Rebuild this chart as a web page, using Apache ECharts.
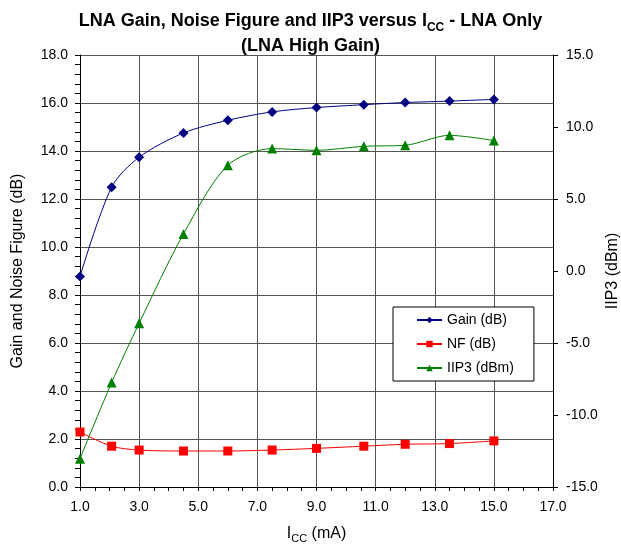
<!DOCTYPE html>
<html>
<head>
<meta charset="utf-8">
<script src="https://cdn.jsdelivr.net/npm/echarts@6/dist/echarts.min.js"></script>
<style>
html,body{margin:0;padding:0;background:#fff;}
#c{width:621px;height:547px;}
</style>
</head>
<body>
<div id="c"></div>
<script>
// Data
const icc   = [1.0, 2.07, 3.0, 4.5, 6.0, 7.5, 9.0, 10.6, 12.0, 13.5, 15.0];
const gain  = [8.77, 12.49, 13.74, 14.75, 15.28, 15.63, 15.81, 15.93, 16.02, 16.08, 16.15];
const nf    = [2.29, 1.70, 1.54, 1.50, 1.50, 1.54, 1.61, 1.70, 1.78, 1.81, 1.92];
const iip3  = [-13.03, -7.75, -3.63, 2.57, 7.34, 8.50, 8.38, 8.66, 8.73, 9.42, 9.06];
const seriesNames = ['Gain (dB)', 'NF (dB)', 'IIP3 (dBm)'];

const pairs = (ys) => icc.map((x, i) => [x, ys[i]]);
const FONT = 'Liberation Sans, Arial, sans-serif';
const fmt1 = v => v.toFixed(1);

const chart = echarts.init(document.getElementById('c'), null, {renderer: 'canvas'});
chart.setOption({
  animation: false,
  backgroundColor: '#fff',
  textStyle: {fontFamily: FONT, color: '#000'},
  title: {
    left: 'center',
    top: 4,
    text: '{b|LNA Gain, Noise Figure and IIP3 versus I}{s|CC}{b| - LNA Only}\n{b|(LNA High Gain)}',
    textStyle: {
      fontFamily: FONT,
      rich: {
        b: {fontSize: 18, fontWeight: 'bold', color: '#000', lineHeight: 25, fontFamily: FONT},
        s: {fontSize: 12, fontWeight: 'bold', color: '#000', lineHeight: 15, verticalAlign: 'bottom', fontFamily: FONT}
      }
    }
  },
  grid: {left: 80, right: 68, top: 55, bottom: 60, show: false, outerBoundsMode: 'none', containLabel: false},
  legend: {
    show: true,
    orient: 'vertical',
    left: 393,
    top: 307,
    padding: [6, 20, 6, 23],
    itemGap: 10,
    itemWidth: 25,
    itemHeight: 8,
    borderColor: '#000',
    borderWidth: 1,
    borderRadius: 0,
    backgroundColor: '#fff',
    textStyle: {fontSize: 14, fontFamily: FONT, color: '#000'},
    data: seriesNames
  },
  xAxis: {
    type: 'value',
    min: 1, max: 17, interval: 2,
    name: '{a|I}{s|CC}{a| (mA)}',
    nameLocation: 'middle',
    nameGap: 37,
    nameMoveOverlap: false,
    nameTextStyle: {
      rich: {
        a: {fontSize: 16, color: '#000', lineHeight: 20, fontFamily: FONT},
        s: {fontSize: 11, color: '#000', lineHeight: 12, verticalAlign: 'bottom', fontFamily: FONT}
      }
    },
    axisLine: {lineStyle: {color: '#000', width: 1}},
    axisTick: {show: true, inside: false, length: 4, lineStyle: {color: '#000'}},
    minorTick: {show: true, splitNumber: 4, length: 4, lineStyle: {color: '#000'}},
    axisLabel: {fontSize: 14, color: '#000', margin: 13, formatter: fmt1, fontFamily: FONT},
    splitLine: {show: true, lineStyle: {color: '#555', width: 1}}
  },
  yAxis: [{
    type: 'value',
    min: 0, max: 18, interval: 2,
    name: 'Gain and Noise Figure (dB)',
    nameLocation: 'middle',
    nameGap: 54,
    nameMoveOverlap: false,
    nameTextStyle: {fontSize: 16, color: '#000', fontFamily: FONT},
    axisLine: {show: true, lineStyle: {color: '#000'}},
    axisTick: {show: true, length: 5, lineStyle: {color: '#000'}},
    minorTick: {show: true, splitNumber: 5, length: 5, lineStyle: {color: '#000'}},
    axisLabel: {fontSize: 14, color: '#000', margin: 12, formatter: fmt1, fontFamily: FONT},
    splitLine: {show: true, lineStyle: {color: '#555', width: 1}}
  }, {
    type: 'value',
    min: -15, max: 15, interval: 5,
    position: 'right',
    name: 'IIP3 (dBm)',
    nameLocation: 'middle',
    nameGap: 52,
    nameMoveOverlap: false,
    nameTextStyle: {fontSize: 16, color: '#000', fontFamily: FONT},
    axisLine: {show: true, lineStyle: {color: '#000'}},
    axisTick: {show: true, length: 5, lineStyle: {color: '#000'}},
    axisLabel: {fontSize: 14, color: '#000', margin: 13, formatter: fmt1, fontFamily: FONT},
    splitLine: {show: false}
  }],
  series: [{
    name: seriesNames[0],
    type: 'line',
    yAxisIndex: 0,
    data: pairs(gain),
    smooth: 0.3,
    symbol: 'diamond',
    symbolSize: 10,
    itemStyle: {color: '#000080'},
    lineStyle: {color: '#000080', width: 1},
    z: 3
  }, {
    name: seriesNames[1],
    type: 'line',
    yAxisIndex: 0,
    data: pairs(nf),
    smooth: 0.3,
    symbol: 'rect',
    symbolSize: 9,
    itemStyle: {color: '#ff0000'},
    lineStyle: {color: '#ff0000', width: 1},
    z: 3
  }, {
    name: seriesNames[2],
    type: 'line',
    yAxisIndex: 1,
    data: pairs(iip3),
    smooth: 0.3,
    symbol: 'triangle',
    symbolSize: 10,
    itemStyle: {color: '#008000'},
    lineStyle: {color: '#008000', width: 1},
    z: 3
  }]
});
</script>
</body>
</html>
